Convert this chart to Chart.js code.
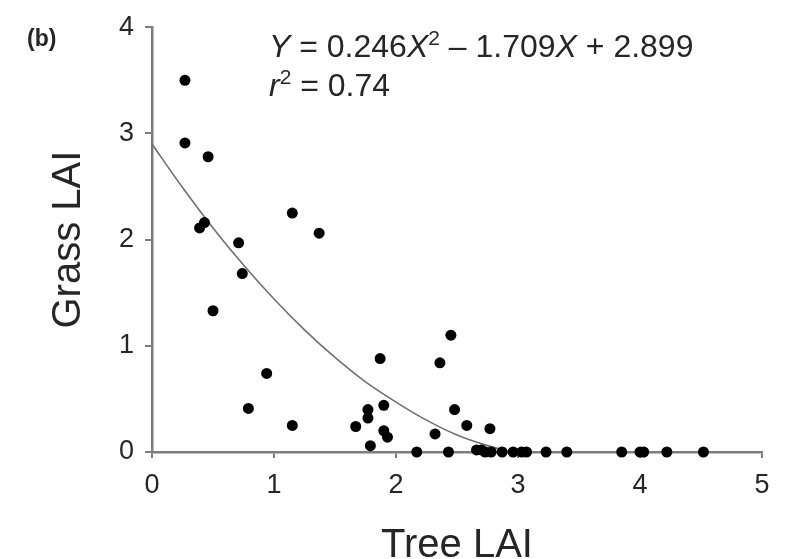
<!DOCTYPE html>
<html>
<head>
<meta charset="utf-8">
<script src="https://cdn.jsdelivr.net/npm/chart.js@4/dist/chart.umd.min.js"></script>
<style>
html,body{margin:0;padding:0;background:#fff;}
#c{display:block;}
</style>
</head>
<body>
<canvas id="c" width="788" height="559"></canvas>
<script>
// Observed points (Tree LAI, Grass LAI)
const treeLAI = [0.27,0.27,0.46,1.15,1.37,0.43,0.39,0.71,0.74,0.50,0.94,0.79,1.15,1.67,1.87,2.45,2.36,1.90,1.77,1.77,1.90,1.93,1.79,2.17,2.43,2.48,2.58,2.32,2.77,
                 2.66,2.70,2.73,2.78,2.87,2.96,3.03,3.07,3.23,3.40,3.85,4.00,4.03,4.22,4.52];
const grassLAI = [3.50,2.91,2.78,2.25,2.06,2.16,2.11,1.97,1.68,1.33,0.74,0.41,0.25,0.24,0.88,1.10,0.84,0.44,0.40,0.32,0.20,0.14,0.06,0.00,0.00,0.40,0.25,0.17,0.22,
                  0.02,0.02,0.00,0.00,0.00,0.00,0.00,0.00,0.00,0.00,0.00,0.00,0.00,0.00,0.00];
// Fitted curve
const curveX = [0,0.25,0.5,0.75,1.0,1.25,1.5,1.75,2.0,2.25,2.5,2.75,2.94];
const curveY = [2.90,2.49,2.11,1.76,1.44,1.15,0.89,0.66,0.47,0.30,0.16,0.06,0.00];
// Axis ticks
const xTicks = [0,1,2,3,4,5];
const yTicks = [0,1,2,3,4];
const xTitle = "Tree LAI";
const yTitle = "Grass LAI";
const panelLabel = "(b)";

const FONT = "'Liberation Sans', Arial, Helvetica, sans-serif";
const AXIS = '#7d7d7d';
const TXT = '#262626';

const annot = {
  id: 'annot',
  afterDraw(chart) {
    const ctx = chart.ctx;
    ctx.save();
    ctx.fillStyle = TXT;
    ctx.textBaseline = 'alphabetic';
    ctx.textAlign = 'left';
    const fs = 32;
    function run(segs, x, y) {
      for (const s of segs) {
        let size = s.sup ? 21 : fs;
        ctx.font = (s.it ? 'italic ' : '') + size + 'px ' + FONT;
        ctx.fillText(s.t, x, y - (s.sup ? 12 : 0));
        x += ctx.measureText(s.t).width;
      }
    }
    run([{t:'Y',it:1},{t:' = 0.246'},{t:'X',it:1},{t:'2',sup:1},{t:' \u2013 1.709'},{t:'X',it:1},{t:' + 2.899'}], 269, 57);
    run([{t:'r',it:1},{t:'2',sup:1},{t:' = 0.74'}], 269, 96);
    ctx.font = 'bold 23px ' + FONT;
    ctx.fillText(panelLabel, 27, 46);
    ctx.restore();
  }
};

new Chart(document.getElementById('c'), {
  type: 'scatter',
  data: {
    datasets: [
      {
        type: 'line',
        data: curveX.map((x, i) => ({x, y: curveY[i]})),
        borderColor: '#707070',
        borderWidth: 1.6,
        pointRadius: 0,
        cubicInterpolationMode: 'monotone',
        fill: false,
        order: 2
      },
      {
        data: treeLAI.map((x, i) => ({x, y: grassLAI[i]})),
        backgroundColor: '#000',
        borderWidth: 0,
        pointRadius: 5.5,
        pointHoverRadius: 5.5,
        clip: false,
        order: 1
      }
    ]
  },
  options: {
    responsive: false,
    animation: false,
    events: [],
    layout: { padding: { top: 26, right: 26, left: 0, bottom: 0 } },
    plugins: { legend: { display: false }, tooltip: { enabled: false } },
    scales: {
      x: {
        type: 'linear', min: 0, max: 5,
        afterBuildTicks: s => { s.ticks = xTicks.map(v => ({value: v})); },
        afterFit: s => { s.height = 107; },
        border: { color: AXIS, width: 2.5 },
        grid: { drawOnChartArea: false, color: AXIS, tickColor: AXIS, tickLength: 6, lineWidth: 2 },
        ticks: { color: TXT, font: { family: FONT, size: 27 }, padding: 11, maxRotation: 0 },
        title: { display: true, text: xTitle, color: TXT, font: { family: FONT, size: 40, lineHeight: 0.67 }, padding: { top: 4, bottom: 0 } }
      },
      y: {
        type: 'linear', min: 0, max: 4,
        afterBuildTicks: s => { s.ticks = yTicks.map(v => ({value: v})); },
        afterFit: s => { s.width = 152; },
        border: { color: AXIS, width: 2.5 },
        grid: { drawOnChartArea: false, color: AXIS, tickColor: AXIS, tickLength: 7, lineWidth: 2 },
        ticks: { color: TXT, font: { family: FONT, size: 27 }, padding: 11 },
        title: { display: true, text: yTitle, color: TXT, font: { family: FONT, size: 40 }, padding: { top: 45, bottom: 0 } }
      }
    }
  },
  plugins: [annot]
});
</script>
</body>
</html>
